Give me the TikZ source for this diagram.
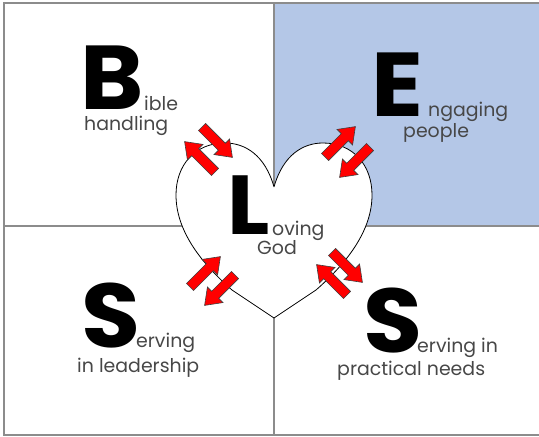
\documentclass[tikz,border=0pt]{standalone}
\usepackage{fontspec}
\setmainfont{Poppins}
\newfontfamily\capfont{Poppins}[FakeStretch=1.06]
\usetikzlibrary{positioning}

\begin{document}
\begin{tikzpicture}[x=1bp, y=-1bp,
        divider/.style={draw=black!45, line width=1.2bp},
        bigletter/.style={font=\capfont\fontsize{91}{91}\selectfont\bfseries, inner sep=0pt, anchor=base west},
        smalltext/.style={font=\fontsize{19}{19}\selectfont, text=black!72, inner sep=0pt, anchor=base west},
        redarrow/.pic={\draw[fill=red, draw=black!75, line width=0.6bp] (0,-5) -- (28,-5) -- (28,-11) -- (43,0) -- (28,11) -- (28,5) -- (0,5) -- cycle;}
    ]
    \useasboundingbox (0,0) rectangle (539,437);
    % quadrants
    \fill[fill={rgb,255:red,180;green,199;blue,231}] (274,3) rectangle (541,226);
    \coordinate (top) at (274,3);
    \coordinate (bottom) at (274,435);
    \coordinate (left) at (4,226);
    \coordinate (right) at (541,226);
    \draw[divider] (top) -- (bottom);
    \draw[divider] (left) -- (right);
    \draw[divider] (541,3) -- (4,3) -- (4,435) -- (541,435);
    % heart
    \draw[fill=white, line width=0.8bp] (274,187) .. controls (265,155) and (245,143) .. (225,143)
        .. controls (195,143) and (176,165) .. (176,195)
        .. controls (176,230) and (200,262) .. (232,290) -- (274,318) -- (316,290)
        .. controls (348,262) and (372,230) .. (372,195)
        .. controls (372,165) and (353,143) .. (323,143)
        .. controls (303,143) and (283,155) .. (274,187);
    % arrows
    \pic[rotate=-45] at (202,127) {redarrow};
    \pic[rotate=135] at (215,172) {redarrow};
    \pic[rotate=45] at (325,157) {redarrow};
    \pic[rotate=-135] at (370,147) {redarrow};
    \pic[rotate=45] at (190,287) {redarrow};
    \pic[rotate=-135] at (235,275) {redarrow};
    \pic[rotate=-45] at (332,252) {redarrow};
    \pic[rotate=135] at (347,295) {redarrow};
    % letters
    \node[bigletter] (bletter) at (80,110) {B};
    \node[smalltext] (bible) at (144,111) {ible};
    \node[smalltext] (bhandling) at (84,131) {handling};
    \node[bigletter] (eletter) at (371,117) {E};
    \node[smalltext] (engaging) at (428,117) {ngaging};
    \node[smalltext] (epeople) at (403,138) {people};
    \node[bigletter, font=\capfont\fontsize{84}{84}\selectfont\bfseries] (lletter) at (227,235) {L};
    \node[smalltext] (loving) at (272,236) {oving};
    \node[smalltext] (lgod) at (257,255) {God};
    \node[bigletter] (sletter) at (81,347) {S};
    \node[smalltext] (serving) at (136,347) {erving};
    \node[smalltext] (slead) at (77,372) {in leadership};
    \node[bigletter] (pletter) at (363,352) {S};
    \node[smalltext] (pserving) at (417,352) {erving in};
    \node[smalltext] (pneeds) at (337,375) {practical needs};
\end{tikzpicture}
\end{document}
